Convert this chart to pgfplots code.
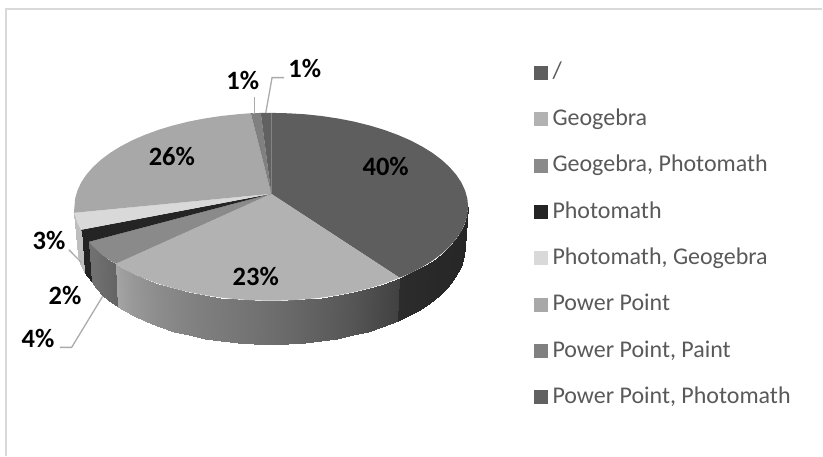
\documentclass[border=0pt]{standalone}
\usepackage{fontspec}
\setmainfont{Carlito}
\usepackage{pgfplots}
\pgfplotsset{compat=1.18}

\definecolor{txt}{gray}{0.35}
\definecolor{lead}{gray}{0.67}
\definecolor{framec}{gray}{0.85}
\definecolor{c0}{gray}{0.37}
\definecolor{c1}{gray}{0.70}
\definecolor{c2}{gray}{0.54}
\definecolor{c3}{gray}{0.14}
\definecolor{c4}{gray}{0.85}
\definecolor{c5}{gray}{0.66}
\definecolor{c6}{gray}{0.50}
\definecolor{c7}{gray}{0.38}

% x and y are image pixels, y pointing down
\pgfplotsset{
  wall/.style={forget plot, patch, patch type=rectangle, shader=interp, point meta=explicit},
  leader/.style={forget plot, no markers, lead, line width=1.3pt},
}
\tikzset{pct/.style={font=\fontsize{26.5}{26.5}\selectfont\bfseries, text=black, inner sep=0pt}}

\begin{document}
\begin{tikzpicture}
\begin{axis}[
  scale only axis,
  width=823pt, height=456pt,
  xmin=0, xmax=823, ymin=0, ymax=456,
  y dir=reverse,
  hide axis,
  clip=false,
  colormap/blackwhite,
  point meta min=0, point meta max=255,
  area legend,
  legend image code/.code={\fill[#1] (0pt,-7pt) rectangle (14pt,7pt);},
  legend cell align=left,
  legend style={
    at={(axis cs:534,59)}, anchor=north west, draw=none, fill=none,
    inner sep=0pt, outer sep=0pt, row sep=18.4pt,
    font=\fontsize{24}{24}\selectfont\color{txt},
    nodes={inner sep=0pt, text height=20pt, text depth=8pt},
    /tikz/every odd column/.append style={column sep=5pt},
  },
]
% page box
\path (axis cs:0,0) rectangle (axis cs:823,456);
% frame, cut off by the image on the right and at the bottom
\addplot[forget plot, no markers, framec, line width=1.5pt] coordinates {(6,456) (6,9) (823,9)};

% side walls, darkness from the reference: x y gray
\addplot[wall] table[meta=c] {
x y c
81 230 35
89 242 35
92 282 35
84.1 272.4 35
};
\addplot[wall] table[meta=c] {
x y c
89 242 112
93 246.7 112
95.7 288.4 112
92 282 112
93 246.7 112
100.9 254 108
103.5 296 108
95.7 288.4 112
100.9 254 108
110.1 260.9 103
112.6 303.2 103
103.5 296 108
110.1 260.9 103
116 264 100
117.9 306.8 100
112.6 303.2 103
};
\addplot[wall] table[meta=c] {
x y c
116 264 165
120.6 267.4 160
122.9 310 160
117.9 306.8 165
120.6 267.4 160
132.2 273.5 152
134.3 316.3 152
122.9 310 160
132.2 273.5 152
144.9 279 146
146.8 322.1 146
134.3 316.3 152
144.9 279 146
158.5 284 140
160.2 327.3 140
146.8 322.1 146
158.5 284 140
173 288.4 135
174.5 331.9 135
160.2 327.3 140
173 288.4 135
188.2 292.2 130
189.5 335.8 130
174.5 331.9 135
188.2 292.2 130
204.1 295.3 126
205.2 339.1 126
189.5 335.8 130
204.1 295.3 126
220.5 297.8 122
221.3 341.7 122
205.2 339.1 126
220.5 297.8 122
237.3 299.6 118
237.8 343.5 118
221.3 341.7 122
237.3 299.6 118
254.3 300.6 114
254.6 344.6 114
237.8 343.5 118
254.3 300.6 114
271.5 301 110
271.5 345 110
254.6 344.6 114
271.5 301 110
288.7 300.6 105
288.4 344.6 105
271.5 345 110
288.7 300.6 105
305.7 299.6 100
305.2 343.5 100
288.4 344.6 105
305.7 299.6 100
322.5 297.8 95
321.7 341.7 95
305.2 343.5 100
322.5 297.8 95
338.9 295.3 90
337.8 339.1 90
321.7 341.7 95
338.9 295.3 90
354.8 292.2 85
353.5 335.8 85
337.8 339.1 90
354.8 292.2 85
370 288.4 78
368.5 331.9 78
353.5 335.8 85
370 288.4 78
384.5 284 72
382.8 327.3 72
368.5 331.9 78
384.5 284 72
400 278 65
398 321.3 65
382.8 327.3 72
};
\addplot[wall] table[meta=c] {
x y c
400 278 44
410.8 273.5 43
408.7 316.3 43
398 321.3 44
410.8 273.5 43
422.4 267.4 42
420.1 310 42
408.7 316.3 43
422.4 267.4 42
432.9 260.9 41
430.4 303.2 41
420.1 310 42
432.9 260.9 41
442.1 254 40
439.5 296 40
430.4 303.2 41
442.1 254 40
450 246.7 40
447.3 288.4 40
439.5 296 40
450 246.7 40
456.6 239.1 39
453.8 280.5 39
447.3 288.4 40
456.6 239.1 39
461.8 231.3 39
458.9 272.4 39
453.8 280.5 39
461.8 231.3 39
465.5 223.3 38
462.6 264 38
458.9 272.4 39
465.5 223.3 38
467.8 215.2 38
464.8 255.5 38
462.6 264 38
467.8 215.2 38
468.5 207 38
465.5 247 38
464.8 255.5 38
};
\addplot[wall] table[meta=c] {
x y c
81 230 190
77.5 223.3 190
80.4 264 190
84.1 272.4 190
77.5 223.3 190
75.2 215.2 190
78.2 255.5 190
80.4 264 190
75.2 215.2 190
74 213 190
77.6 241 190
78.2 255.5 190
};

% top faces, in legend order
\addplot[fill=c0, draw=none] coordinates {
(271.5,194) (271.5,113) (288.7,113.4) (305.7,114.4) (322.5,116.2) (338.9,118.7) (354.8,121.8) (370,125.6)
(384.5,130) (398.1,135) (410.8,140.5) (422.4,146.6) (432.9,153.1) (442.1,160) (450,167.3) (456.6,174.9)
(461.8,182.7) (465.5,190.7) (467.8,198.8) (468.5,207) (467.8,215.2) (465.5,223.3) (461.8,231.3) (456.6,239.1)
(450,246.7) (442.1,254) (432.9,260.9) (422.4,267.4) (410.8,273.5) (400,278)
} -- cycle;
\addplot[fill=c1, draw=none] coordinates {
(271.5,194) (400,278) (384.5,284) (370,288.4) (354.8,292.2) (338.9,295.3) (322.5,297.8) (305.7,299.6)
(288.7,300.6) (271.5,301) (254.3,300.6) (237.3,299.6) (220.5,297.8) (204.1,295.3) (188.2,292.2) (173,288.4)
(158.5,284) (144.9,279) (132.2,273.5) (120.6,267.4) (116,264)
} -- cycle;
\addplot[fill=c2, draw=none] coordinates {
(271.5,194) (116,264) (110.1,260.9) (100.9,254) (93,246.7) (89,242)
} -- cycle;
\addplot[fill=c3, draw=none] coordinates {
(271.5,194) (89,242) (86.4,239.1) (81,230)
} -- cycle;
\addplot[fill=c4, draw=none] coordinates {
(271.5,194) (81,230) (77.5,223.3) (75.2,215.2) (74,213)
} -- cycle;
\addplot[fill=c5, draw=none] coordinates {
(271.5,194) (74,213) (74.5,207) (75.2,198.8) (77.5,190.7) (81.2,182.7) (86.4,174.9) (93,167.3) (100.9,160)
(110.1,153.1) (120.6,146.6) (132.2,140.5) (144.9,135) (158.5,130) (173,125.6) (188.2,121.8) (204.1,118.7)
(220.5,116.2) (237.3,114.4) (251,113.3)
} -- cycle;
\addplot[fill=c6, draw=none] coordinates {
(271.5,194) (251,113.3) (254.3,113.4) (261,113)
} -- cycle;
\addplot[fill=c7, draw=none] coordinates {
(271.5,194) (261,113) (271.5,113)
} -- cycle;
\legend{/,Geogebra,{Geogebra, Photomath},Photomath,{Photomath, Geogebra},Power Point,{Power Point, Paint},{Power Point, Photomath}}

% leader lines
\addplot[leader] coordinates {(255,97) (255,113)};
\addplot[leader] coordinates {(284.3,77.7) (272.3,77.7) (266,113)};
\addplot[leader] coordinates {(69,250) (81.7,263)};
\addplot[leader] coordinates {(60,347.7) (71.7,347.7) (102.7,296.7)};

\node[pct] at (axis cs:386,167) {40\%};
\node[pct] at (axis cs:256,277) {23\%};
\node[pct] at (axis cs:172,157) {26\%};
\node[pct] at (axis cs:243,81) {1\%};
\node[pct] at (axis cs:305,69) {1\%};
\node[pct] at (axis cs:49,241) {3\%};
\node[pct] at (axis cs:65,296) {2\%};
\node[pct] at (axis cs:38,339) {4\%};
\end{axis}
\end{tikzpicture}
\end{document}
